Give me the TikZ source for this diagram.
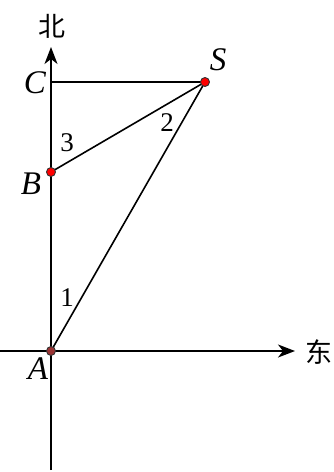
\documentclass[tikz,border=0pt]{standalone}
\usepackage{fontspec}
\setmainfont{Liberation Serif}
\newfontfamily\cjk{Noto Sans CJK SC}
\usetikzlibrary{arrows.meta}
\begin{document}
\begin{tikzpicture}[x=1pt,y=-1pt,
  line/.style={line width=1.6pt},
  axis/.style={line width=1.6pt,-{Stealth[length=17pt,width=13pt,inset=5pt]}},
  lab/.style={font=\fontsize{33}{38}\selectfont\itshape,inner sep=0pt},
  num/.style={font=\fontsize{27}{32}\selectfont,inner sep=0pt},
  cjklab/.style={font=\cjk\fontsize{27}{30}\selectfont,inner sep=0pt},
  pt/.style={circle,draw=black!80,line width=0.9pt,inner sep=0pt,minimum size=9pt}]
\useasboundingbox (0,0) rectangle (334,472);
\coordinate (A) at (51,351);
\coordinate (B) at (51,172);
\coordinate (C) at (51,82);
\coordinate (S) at (205,82);
\coordinate (Nbot) at (51,470);
\coordinate (Ntop) at (51,47);
\coordinate (Wend) at (0,351);
\coordinate (Eend) at (295,351);
\draw[axis] (Nbot) -- (Ntop);
\draw[axis] (Wend) -- (Eend);
\draw[line] (C) -- (S);
\draw[line] (B) -- (S);
\draw[line] (A) -- (S);
\node[pt,fill=red] (b) at (B) {};
\node[pt,fill=red] (s) at (S) {};
\node[pt,fill=red!50!black!80] (a) at (A) {};
\node[cjklab] (north) at (52,26) {北};
\node[cjklab] (east) at (319,352) {东};
\node[lab] (lc) at (35,83) {C};
\node[lab] (lb) at (31,184) {B};
\node[lab] (ls) at (218,60) {S};
\node[lab] (la) at (38,369) {A};
\node[num] (n3) at (67,143) {3};
\node[num] (n2) at (167,123) {2};
\node[num] (n1) at (67,298) {1};
\end{tikzpicture}
\end{document}
